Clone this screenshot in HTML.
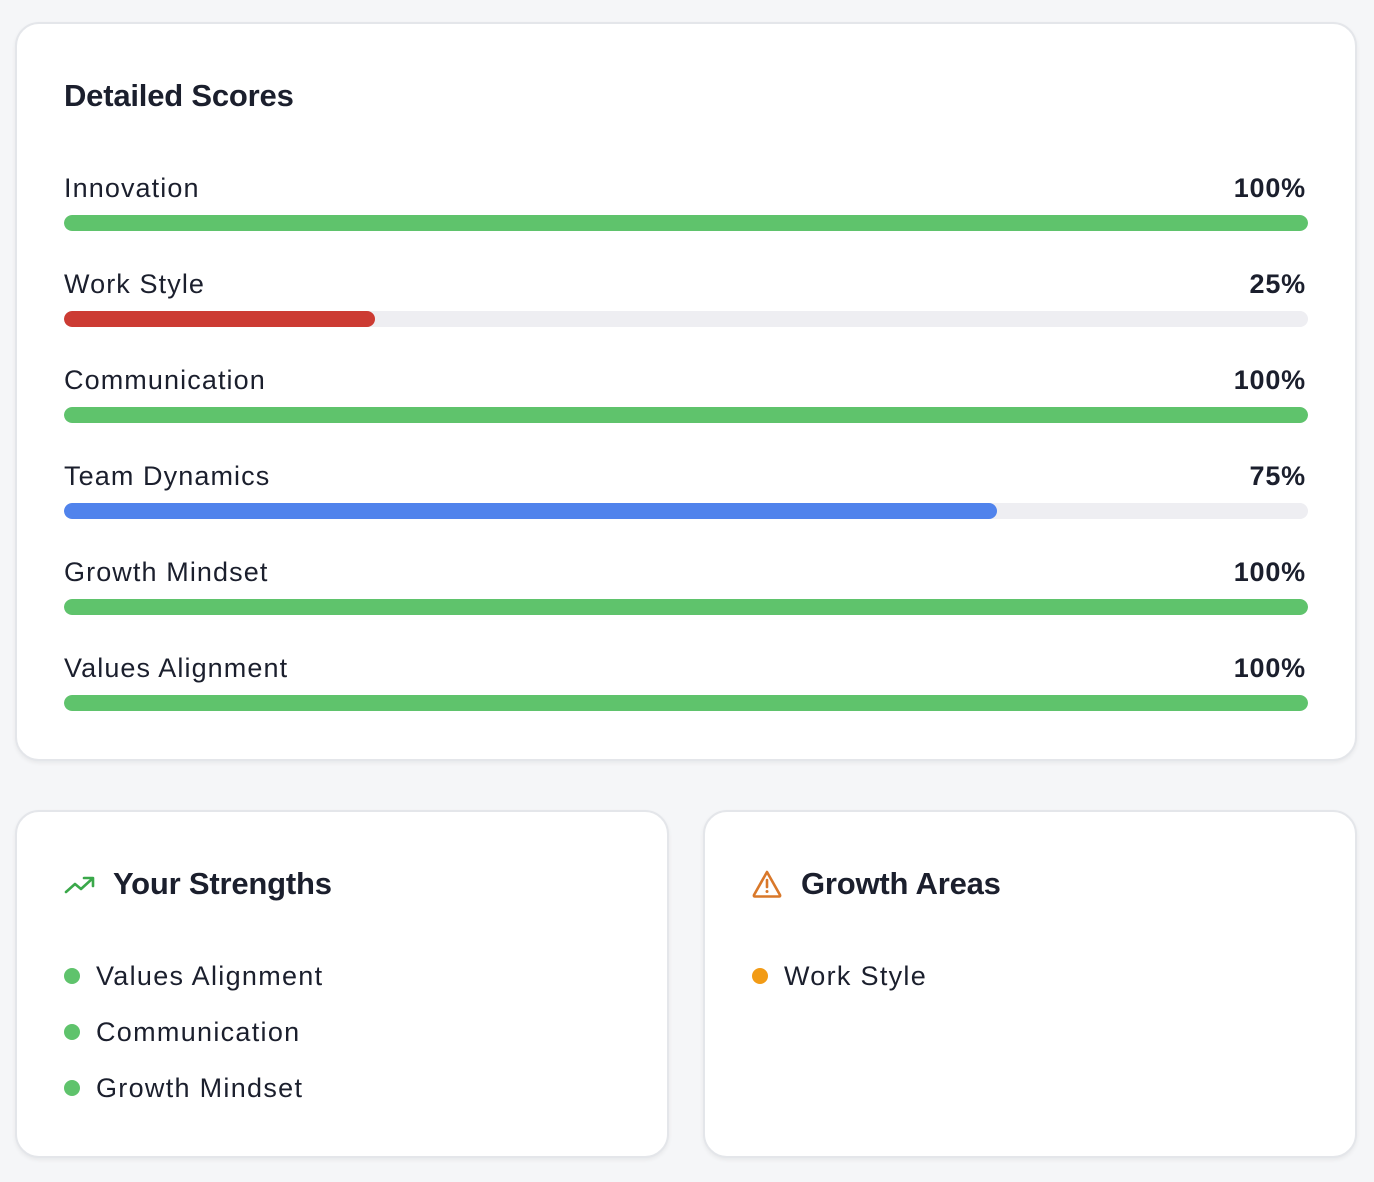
<!DOCTYPE html>
<html><head><style>
*{margin:0;padding:0;box-sizing:border-box}
body{width:1374px;height:1182px;background:#f5f6f8;font-family:"Liberation Sans",sans-serif;color:#1b1f2d;position:relative;overflow:hidden}
.card{position:absolute;background:#fff;border:2px solid #e4e6ea;border-radius:24px;box-shadow:0 2px 4px rgba(0,0,0,0.06)}
h2{position:absolute;font-size:31px;font-weight:bold;letter-spacing:-0.2px}
.row{position:absolute;left:47px;width:1244px}
.lbl{position:absolute;left:0;top:-20px;font-size:27px;line-height:36px;letter-spacing:1.1px}
.pct{position:absolute;right:2px;top:-20px;font-size:27px;line-height:36px;font-weight:bold;letter-spacing:0.8px}
.bar{position:absolute;left:0;top:25px;width:1244px;height:16px;border-radius:8px;background:#eeeef2;overflow:hidden}
.fill{height:16px;border-radius:8px}
.item{position:absolute;font-size:27px;line-height:36px;letter-spacing:1.3px}
.dot{position:absolute;width:16px;height:16px;border-radius:50%}
</style></head><body>
<div class="card" style="left:15px;top:22px;width:1342px;height:739px">
<h2 style="left:47px;top:54px">Detailed Scores</h2>
<div class="row" style="top:166px"><div class="lbl">Innovation</div><div class="pct">100%</div><div class="bar"><div class="fill" style="width:100%;background:#5fc36c"></div></div></div>
<div class="row" style="top:262px"><div class="lbl">Work Style</div><div class="pct">25%</div><div class="bar"><div class="fill" style="width:311px;background:#cc3b33"></div></div></div>
<div class="row" style="top:358px"><div class="lbl">Communication</div><div class="pct">100%</div><div class="bar"><div class="fill" style="width:100%;background:#5fc36c"></div></div></div>
<div class="row" style="top:454px"><div class="lbl">Team Dynamics</div><div class="pct">75%</div><div class="bar"><div class="fill" style="width:933px;background:#5083ec"></div></div></div>
<div class="row" style="top:550px"><div class="lbl">Growth Mindset</div><div class="pct">100%</div><div class="bar"><div class="fill" style="width:100%;background:#5fc36c"></div></div></div>
<div class="row" style="top:646px"><div class="lbl">Values Alignment</div><div class="pct">100%</div><div class="bar"><div class="fill" style="width:100%;background:#5fc36c"></div></div></div>
</div>
<div class="card" style="left:15px;top:810px;width:654px;height:348px">
<svg style="position:absolute;left:47px;top:62px" width="32" height="24" viewBox="0 0 32 24"><polyline points="2,18 11,10 17,15 28,5" fill="none" stroke="#3aa84a" stroke-width="2.6" stroke-linecap="round" stroke-linejoin="round"/><polyline points="20,4 29,4 29,12" fill="none" stroke="#3aa84a" stroke-width="2.6" stroke-linecap="round" stroke-linejoin="round"/></svg>
<h2 style="left:96px;top:54px">Your Strengths</h2>
<div class="dot" style="left:47px;top:156px;background:#5fc36c"></div><div class="item" style="left:79px;top:146px">Values Alignment</div>
<div class="dot" style="left:47px;top:212px;background:#5fc36c"></div><div class="item" style="left:79px;top:202px">Communication</div>
<div class="dot" style="left:47px;top:268px;background:#5fc36c"></div><div class="item" style="left:79px;top:258px">Growth Mindset</div>
</div>
<div class="card" style="left:703px;top:810px;width:654px;height:348px">
<svg style="position:absolute;left:46px;top:56px" width="32" height="32" viewBox="0 0 32 32"><path d="M16 4 L29 27 Q29.5 28.5 28 28.5 L4 28.5 Q2.5 28.5 3 27 Z" fill="none" stroke="#d9782a" stroke-width="2.6" stroke-linejoin="round"/><line x1="16" y1="12" x2="16" y2="19" stroke="#d9782a" stroke-width="2.6" stroke-linecap="round"/><circle cx="16" cy="23.5" r="1.5" fill="#d9782a"/></svg>
<h2 style="left:96px;top:54px">Growth Areas</h2>
<div class="dot" style="left:47px;top:156px;background:#f29b16"></div><div class="item" style="left:79px;top:146px">Work Style</div>
</div>
</body></html>
